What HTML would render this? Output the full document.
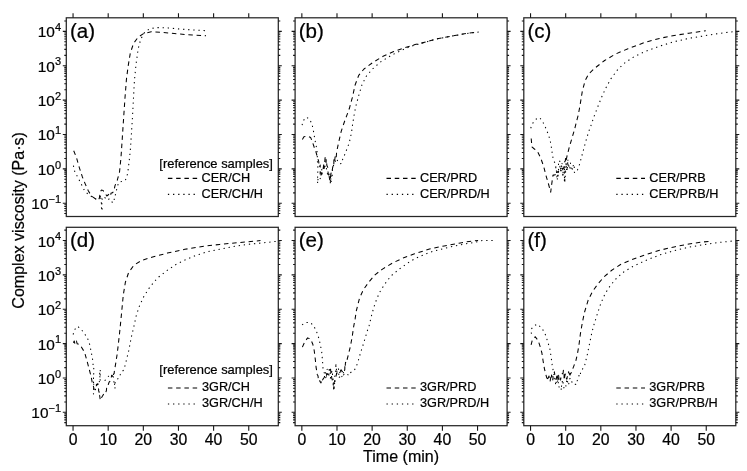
<!DOCTYPE html><html><head><meta charset="utf-8"><style>html,body{margin:0;padding:0;background:#fff}svg{display:block;filter:grayscale(1)}</style></head><body><svg width="747" height="471" viewBox="0 0 747 471" font-family="Liberation Sans, sans-serif"><style>text{stroke:#000;stroke-width:0.22px}</style>
<rect width="747" height="471" fill="#fff"/>
<g opacity="0.999">
<rect x="66.3" y="17.8" width="212.0" height="198.7" fill="none" stroke="#262626" stroke-width="1.25"/>
<rect x="295.1" y="17.8" width="212.0" height="198.7" fill="none" stroke="#262626" stroke-width="1.25"/>
<rect x="523.8" y="17.8" width="212.0" height="198.7" fill="none" stroke="#262626" stroke-width="1.25"/>
<rect x="66.3" y="227.3" width="212.0" height="198.39999999999998" fill="none" stroke="#262626" stroke-width="1.25"/>
<rect x="295.1" y="227.3" width="212.0" height="198.39999999999998" fill="none" stroke="#262626" stroke-width="1.25"/>
<rect x="523.8" y="227.3" width="212.0" height="198.39999999999998" fill="none" stroke="#262626" stroke-width="1.25"/>
<path d="M73.05 17.8v-4.6M108.19 17.8v-4.6M143.33 17.8v-4.6M178.47 17.8v-4.6M213.61 17.8v-4.6M248.75 17.8v-4.6M66.3 213.54h-2.0M278.3 213.54h2.0M66.3 210.82h-2.0M278.3 210.82h2.0M66.3 208.52h-2.0M278.3 208.52h2.0M66.3 206.53h-2.0M278.3 206.53h2.0M66.3 204.77h-2.0M278.3 204.77h2.0M66.3 203.20h-3.5M278.3 203.20h3.5M66.3 192.86h-2.0M278.3 192.86h2.0M66.3 186.81h-2.0M278.3 186.81h2.0M66.3 182.51h-2.0M278.3 182.51h2.0M66.3 179.18h-2.0M278.3 179.18h2.0M66.3 176.46h-2.0M278.3 176.46h2.0M66.3 174.16h-2.0M278.3 174.16h2.0M66.3 172.17h-2.0M278.3 172.17h2.0M66.3 170.41h-2.0M278.3 170.41h2.0M66.3 168.84h-3.5M278.3 168.84h3.5M66.3 158.50h-2.0M278.3 158.50h2.0M66.3 152.45h-2.0M278.3 152.45h2.0M66.3 148.15h-2.0M278.3 148.15h2.0M66.3 144.82h-2.0M278.3 144.82h2.0M66.3 142.10h-2.0M278.3 142.10h2.0M66.3 139.80h-2.0M278.3 139.80h2.0M66.3 137.81h-2.0M278.3 137.81h2.0M66.3 136.05h-2.0M278.3 136.05h2.0M66.3 134.48h-3.5M278.3 134.48h3.5M66.3 124.14h-2.0M278.3 124.14h2.0M66.3 118.09h-2.0M278.3 118.09h2.0M66.3 113.79h-2.0M278.3 113.79h2.0M66.3 110.46h-2.0M278.3 110.46h2.0M66.3 107.74h-2.0M278.3 107.74h2.0M66.3 105.44h-2.0M278.3 105.44h2.0M66.3 103.45h-2.0M278.3 103.45h2.0M66.3 101.69h-2.0M278.3 101.69h2.0M66.3 100.12h-3.5M278.3 100.12h3.5M66.3 89.78h-2.0M278.3 89.78h2.0M66.3 83.73h-2.0M278.3 83.73h2.0M66.3 79.43h-2.0M278.3 79.43h2.0M66.3 76.10h-2.0M278.3 76.10h2.0M66.3 73.38h-2.0M278.3 73.38h2.0M66.3 71.08h-2.0M278.3 71.08h2.0M66.3 69.09h-2.0M278.3 69.09h2.0M66.3 67.33h-2.0M278.3 67.33h2.0M66.3 65.76h-3.5M278.3 65.76h3.5M66.3 55.42h-2.0M278.3 55.42h2.0M66.3 49.37h-2.0M278.3 49.37h2.0M66.3 45.07h-2.0M278.3 45.07h2.0M66.3 41.74h-2.0M278.3 41.74h2.0M66.3 39.02h-2.0M278.3 39.02h2.0M66.3 36.72h-2.0M278.3 36.72h2.0M66.3 34.73h-2.0M278.3 34.73h2.0M66.3 32.97h-2.0M278.3 32.97h2.0M66.3 31.40h-3.5M278.3 31.40h3.5M66.3 21.06h-2.0M278.3 21.06h2.0M301.85 17.8v-4.6M336.99 17.8v-4.6M372.13 17.8v-4.6M407.27 17.8v-4.6M442.41 17.8v-4.6M477.55 17.8v-4.6M295.1 213.54h-2.0M507.1 213.54h2.0M295.1 210.82h-2.0M507.1 210.82h2.0M295.1 208.52h-2.0M507.1 208.52h2.0M295.1 206.53h-2.0M507.1 206.53h2.0M295.1 204.77h-2.0M507.1 204.77h2.0M295.1 203.20h-3.5M507.1 203.20h3.5M295.1 192.86h-2.0M507.1 192.86h2.0M295.1 186.81h-2.0M507.1 186.81h2.0M295.1 182.51h-2.0M507.1 182.51h2.0M295.1 179.18h-2.0M507.1 179.18h2.0M295.1 176.46h-2.0M507.1 176.46h2.0M295.1 174.16h-2.0M507.1 174.16h2.0M295.1 172.17h-2.0M507.1 172.17h2.0M295.1 170.41h-2.0M507.1 170.41h2.0M295.1 168.84h-3.5M507.1 168.84h3.5M295.1 158.50h-2.0M507.1 158.50h2.0M295.1 152.45h-2.0M507.1 152.45h2.0M295.1 148.15h-2.0M507.1 148.15h2.0M295.1 144.82h-2.0M507.1 144.82h2.0M295.1 142.10h-2.0M507.1 142.10h2.0M295.1 139.80h-2.0M507.1 139.80h2.0M295.1 137.81h-2.0M507.1 137.81h2.0M295.1 136.05h-2.0M507.1 136.05h2.0M295.1 134.48h-3.5M507.1 134.48h3.5M295.1 124.14h-2.0M507.1 124.14h2.0M295.1 118.09h-2.0M507.1 118.09h2.0M295.1 113.79h-2.0M507.1 113.79h2.0M295.1 110.46h-2.0M507.1 110.46h2.0M295.1 107.74h-2.0M507.1 107.74h2.0M295.1 105.44h-2.0M507.1 105.44h2.0M295.1 103.45h-2.0M507.1 103.45h2.0M295.1 101.69h-2.0M507.1 101.69h2.0M295.1 100.12h-3.5M507.1 100.12h3.5M295.1 89.78h-2.0M507.1 89.78h2.0M295.1 83.73h-2.0M507.1 83.73h2.0M295.1 79.43h-2.0M507.1 79.43h2.0M295.1 76.10h-2.0M507.1 76.10h2.0M295.1 73.38h-2.0M507.1 73.38h2.0M295.1 71.08h-2.0M507.1 71.08h2.0M295.1 69.09h-2.0M507.1 69.09h2.0M295.1 67.33h-2.0M507.1 67.33h2.0M295.1 65.76h-3.5M507.1 65.76h3.5M295.1 55.42h-2.0M507.1 55.42h2.0M295.1 49.37h-2.0M507.1 49.37h2.0M295.1 45.07h-2.0M507.1 45.07h2.0M295.1 41.74h-2.0M507.1 41.74h2.0M295.1 39.02h-2.0M507.1 39.02h2.0M295.1 36.72h-2.0M507.1 36.72h2.0M295.1 34.73h-2.0M507.1 34.73h2.0M295.1 32.97h-2.0M507.1 32.97h2.0M295.1 31.40h-3.5M507.1 31.40h3.5M295.1 21.06h-2.0M507.1 21.06h2.0M530.55 17.8v-4.6M565.69 17.8v-4.6M600.83 17.8v-4.6M635.97 17.8v-4.6M671.11 17.8v-4.6M706.25 17.8v-4.6M523.8 213.54h-2.0M735.8 213.54h2.0M523.8 210.82h-2.0M735.8 210.82h2.0M523.8 208.52h-2.0M735.8 208.52h2.0M523.8 206.53h-2.0M735.8 206.53h2.0M523.8 204.77h-2.0M735.8 204.77h2.0M523.8 203.20h-3.5M735.8 203.20h3.5M523.8 192.86h-2.0M735.8 192.86h2.0M523.8 186.81h-2.0M735.8 186.81h2.0M523.8 182.51h-2.0M735.8 182.51h2.0M523.8 179.18h-2.0M735.8 179.18h2.0M523.8 176.46h-2.0M735.8 176.46h2.0M523.8 174.16h-2.0M735.8 174.16h2.0M523.8 172.17h-2.0M735.8 172.17h2.0M523.8 170.41h-2.0M735.8 170.41h2.0M523.8 168.84h-3.5M735.8 168.84h3.5M523.8 158.50h-2.0M735.8 158.50h2.0M523.8 152.45h-2.0M735.8 152.45h2.0M523.8 148.15h-2.0M735.8 148.15h2.0M523.8 144.82h-2.0M735.8 144.82h2.0M523.8 142.10h-2.0M735.8 142.10h2.0M523.8 139.80h-2.0M735.8 139.80h2.0M523.8 137.81h-2.0M735.8 137.81h2.0M523.8 136.05h-2.0M735.8 136.05h2.0M523.8 134.48h-3.5M735.8 134.48h3.5M523.8 124.14h-2.0M735.8 124.14h2.0M523.8 118.09h-2.0M735.8 118.09h2.0M523.8 113.79h-2.0M735.8 113.79h2.0M523.8 110.46h-2.0M735.8 110.46h2.0M523.8 107.74h-2.0M735.8 107.74h2.0M523.8 105.44h-2.0M735.8 105.44h2.0M523.8 103.45h-2.0M735.8 103.45h2.0M523.8 101.69h-2.0M735.8 101.69h2.0M523.8 100.12h-3.5M735.8 100.12h3.5M523.8 89.78h-2.0M735.8 89.78h2.0M523.8 83.73h-2.0M735.8 83.73h2.0M523.8 79.43h-2.0M735.8 79.43h2.0M523.8 76.10h-2.0M735.8 76.10h2.0M523.8 73.38h-2.0M735.8 73.38h2.0M523.8 71.08h-2.0M735.8 71.08h2.0M523.8 69.09h-2.0M735.8 69.09h2.0M523.8 67.33h-2.0M735.8 67.33h2.0M523.8 65.76h-3.5M735.8 65.76h3.5M523.8 55.42h-2.0M735.8 55.42h2.0M523.8 49.37h-2.0M735.8 49.37h2.0M523.8 45.07h-2.0M735.8 45.07h2.0M523.8 41.74h-2.0M735.8 41.74h2.0M523.8 39.02h-2.0M735.8 39.02h2.0M523.8 36.72h-2.0M735.8 36.72h2.0M523.8 34.73h-2.0M735.8 34.73h2.0M523.8 32.97h-2.0M735.8 32.97h2.0M523.8 31.40h-3.5M735.8 31.40h3.5M523.8 21.06h-2.0M735.8 21.06h2.0M73.05 425.7v5.1M108.19 425.7v5.1M143.33 425.7v5.1M178.47 425.7v5.1M213.61 425.7v5.1M248.75 425.7v5.1M66.3 422.64h-2.0M278.3 422.64h2.0M66.3 419.92h-2.0M278.3 419.92h2.0M66.3 417.62h-2.0M278.3 417.62h2.0M66.3 415.63h-2.0M278.3 415.63h2.0M66.3 413.87h-2.0M278.3 413.87h2.0M66.3 412.30h-3.5M278.3 412.30h3.5M66.3 401.96h-2.0M278.3 401.96h2.0M66.3 395.91h-2.0M278.3 395.91h2.0M66.3 391.61h-2.0M278.3 391.61h2.0M66.3 388.28h-2.0M278.3 388.28h2.0M66.3 385.56h-2.0M278.3 385.56h2.0M66.3 383.26h-2.0M278.3 383.26h2.0M66.3 381.27h-2.0M278.3 381.27h2.0M66.3 379.51h-2.0M278.3 379.51h2.0M66.3 377.94h-3.5M278.3 377.94h3.5M66.3 367.60h-2.0M278.3 367.60h2.0M66.3 361.55h-2.0M278.3 361.55h2.0M66.3 357.25h-2.0M278.3 357.25h2.0M66.3 353.92h-2.0M278.3 353.92h2.0M66.3 351.20h-2.0M278.3 351.20h2.0M66.3 348.90h-2.0M278.3 348.90h2.0M66.3 346.91h-2.0M278.3 346.91h2.0M66.3 345.15h-2.0M278.3 345.15h2.0M66.3 343.58h-3.5M278.3 343.58h3.5M66.3 333.24h-2.0M278.3 333.24h2.0M66.3 327.19h-2.0M278.3 327.19h2.0M66.3 322.89h-2.0M278.3 322.89h2.0M66.3 319.56h-2.0M278.3 319.56h2.0M66.3 316.84h-2.0M278.3 316.84h2.0M66.3 314.54h-2.0M278.3 314.54h2.0M66.3 312.55h-2.0M278.3 312.55h2.0M66.3 310.79h-2.0M278.3 310.79h2.0M66.3 309.22h-3.5M278.3 309.22h3.5M66.3 298.88h-2.0M278.3 298.88h2.0M66.3 292.83h-2.0M278.3 292.83h2.0M66.3 288.53h-2.0M278.3 288.53h2.0M66.3 285.20h-2.0M278.3 285.20h2.0M66.3 282.48h-2.0M278.3 282.48h2.0M66.3 280.18h-2.0M278.3 280.18h2.0M66.3 278.19h-2.0M278.3 278.19h2.0M66.3 276.43h-2.0M278.3 276.43h2.0M66.3 274.86h-3.5M278.3 274.86h3.5M66.3 264.52h-2.0M278.3 264.52h2.0M66.3 258.47h-2.0M278.3 258.47h2.0M66.3 254.17h-2.0M278.3 254.17h2.0M66.3 250.84h-2.0M278.3 250.84h2.0M66.3 248.12h-2.0M278.3 248.12h2.0M66.3 245.82h-2.0M278.3 245.82h2.0M66.3 243.83h-2.0M278.3 243.83h2.0M66.3 242.07h-2.0M278.3 242.07h2.0M66.3 240.50h-3.5M278.3 240.50h3.5M66.3 230.16h-2.0M278.3 230.16h2.0M301.85 425.7v5.1M336.99 425.7v5.1M372.13 425.7v5.1M407.27 425.7v5.1M442.41 425.7v5.1M477.55 425.7v5.1M295.1 422.64h-2.0M507.1 422.64h2.0M295.1 419.92h-2.0M507.1 419.92h2.0M295.1 417.62h-2.0M507.1 417.62h2.0M295.1 415.63h-2.0M507.1 415.63h2.0M295.1 413.87h-2.0M507.1 413.87h2.0M295.1 412.30h-3.5M507.1 412.30h3.5M295.1 401.96h-2.0M507.1 401.96h2.0M295.1 395.91h-2.0M507.1 395.91h2.0M295.1 391.61h-2.0M507.1 391.61h2.0M295.1 388.28h-2.0M507.1 388.28h2.0M295.1 385.56h-2.0M507.1 385.56h2.0M295.1 383.26h-2.0M507.1 383.26h2.0M295.1 381.27h-2.0M507.1 381.27h2.0M295.1 379.51h-2.0M507.1 379.51h2.0M295.1 377.94h-3.5M507.1 377.94h3.5M295.1 367.60h-2.0M507.1 367.60h2.0M295.1 361.55h-2.0M507.1 361.55h2.0M295.1 357.25h-2.0M507.1 357.25h2.0M295.1 353.92h-2.0M507.1 353.92h2.0M295.1 351.20h-2.0M507.1 351.20h2.0M295.1 348.90h-2.0M507.1 348.90h2.0M295.1 346.91h-2.0M507.1 346.91h2.0M295.1 345.15h-2.0M507.1 345.15h2.0M295.1 343.58h-3.5M507.1 343.58h3.5M295.1 333.24h-2.0M507.1 333.24h2.0M295.1 327.19h-2.0M507.1 327.19h2.0M295.1 322.89h-2.0M507.1 322.89h2.0M295.1 319.56h-2.0M507.1 319.56h2.0M295.1 316.84h-2.0M507.1 316.84h2.0M295.1 314.54h-2.0M507.1 314.54h2.0M295.1 312.55h-2.0M507.1 312.55h2.0M295.1 310.79h-2.0M507.1 310.79h2.0M295.1 309.22h-3.5M507.1 309.22h3.5M295.1 298.88h-2.0M507.1 298.88h2.0M295.1 292.83h-2.0M507.1 292.83h2.0M295.1 288.53h-2.0M507.1 288.53h2.0M295.1 285.20h-2.0M507.1 285.20h2.0M295.1 282.48h-2.0M507.1 282.48h2.0M295.1 280.18h-2.0M507.1 280.18h2.0M295.1 278.19h-2.0M507.1 278.19h2.0M295.1 276.43h-2.0M507.1 276.43h2.0M295.1 274.86h-3.5M507.1 274.86h3.5M295.1 264.52h-2.0M507.1 264.52h2.0M295.1 258.47h-2.0M507.1 258.47h2.0M295.1 254.17h-2.0M507.1 254.17h2.0M295.1 250.84h-2.0M507.1 250.84h2.0M295.1 248.12h-2.0M507.1 248.12h2.0M295.1 245.82h-2.0M507.1 245.82h2.0M295.1 243.83h-2.0M507.1 243.83h2.0M295.1 242.07h-2.0M507.1 242.07h2.0M295.1 240.50h-3.5M507.1 240.50h3.5M295.1 230.16h-2.0M507.1 230.16h2.0M530.55 425.7v5.1M565.69 425.7v5.1M600.83 425.7v5.1M635.97 425.7v5.1M671.11 425.7v5.1M706.25 425.7v5.1M523.8 422.64h-2.0M735.8 422.64h2.0M523.8 419.92h-2.0M735.8 419.92h2.0M523.8 417.62h-2.0M735.8 417.62h2.0M523.8 415.63h-2.0M735.8 415.63h2.0M523.8 413.87h-2.0M735.8 413.87h2.0M523.8 412.30h-3.5M735.8 412.30h3.5M523.8 401.96h-2.0M735.8 401.96h2.0M523.8 395.91h-2.0M735.8 395.91h2.0M523.8 391.61h-2.0M735.8 391.61h2.0M523.8 388.28h-2.0M735.8 388.28h2.0M523.8 385.56h-2.0M735.8 385.56h2.0M523.8 383.26h-2.0M735.8 383.26h2.0M523.8 381.27h-2.0M735.8 381.27h2.0M523.8 379.51h-2.0M735.8 379.51h2.0M523.8 377.94h-3.5M735.8 377.94h3.5M523.8 367.60h-2.0M735.8 367.60h2.0M523.8 361.55h-2.0M735.8 361.55h2.0M523.8 357.25h-2.0M735.8 357.25h2.0M523.8 353.92h-2.0M735.8 353.92h2.0M523.8 351.20h-2.0M735.8 351.20h2.0M523.8 348.90h-2.0M735.8 348.90h2.0M523.8 346.91h-2.0M735.8 346.91h2.0M523.8 345.15h-2.0M735.8 345.15h2.0M523.8 343.58h-3.5M735.8 343.58h3.5M523.8 333.24h-2.0M735.8 333.24h2.0M523.8 327.19h-2.0M735.8 327.19h2.0M523.8 322.89h-2.0M735.8 322.89h2.0M523.8 319.56h-2.0M735.8 319.56h2.0M523.8 316.84h-2.0M735.8 316.84h2.0M523.8 314.54h-2.0M735.8 314.54h2.0M523.8 312.55h-2.0M735.8 312.55h2.0M523.8 310.79h-2.0M735.8 310.79h2.0M523.8 309.22h-3.5M735.8 309.22h3.5M523.8 298.88h-2.0M735.8 298.88h2.0M523.8 292.83h-2.0M735.8 292.83h2.0M523.8 288.53h-2.0M735.8 288.53h2.0M523.8 285.20h-2.0M735.8 285.20h2.0M523.8 282.48h-2.0M735.8 282.48h2.0M523.8 280.18h-2.0M735.8 280.18h2.0M523.8 278.19h-2.0M735.8 278.19h2.0M523.8 276.43h-2.0M735.8 276.43h2.0M523.8 274.86h-3.5M735.8 274.86h3.5M523.8 264.52h-2.0M735.8 264.52h2.0M523.8 258.47h-2.0M735.8 258.47h2.0M523.8 254.17h-2.0M735.8 254.17h2.0M523.8 250.84h-2.0M735.8 250.84h2.0M523.8 248.12h-2.0M735.8 248.12h2.0M523.8 245.82h-2.0M735.8 245.82h2.0M523.8 243.83h-2.0M735.8 243.83h2.0M523.8 242.07h-2.0M735.8 242.07h2.0M523.8 240.50h-3.5M735.8 240.50h3.5M523.8 230.16h-2.0M735.8 230.16h2.0" stroke="#161616" stroke-width="1.1" fill="none"/>
<text x="61.0" y="209.20" font-size="15.4" text-anchor="end">10<tspan font-size="11" dy="-6.3">−1</tspan></text>
<text x="61.0" y="174.84" font-size="15.4" text-anchor="end">10<tspan font-size="11" dy="-6.3">0</tspan></text>
<text x="61.0" y="140.48" font-size="15.4" text-anchor="end">10<tspan font-size="11" dy="-6.3">1</tspan></text>
<text x="61.0" y="106.12" font-size="15.4" text-anchor="end">10<tspan font-size="11" dy="-6.3">2</tspan></text>
<text x="61.0" y="71.76" font-size="15.4" text-anchor="end">10<tspan font-size="11" dy="-6.3">3</tspan></text>
<text x="61.0" y="37.40" font-size="15.4" text-anchor="end">10<tspan font-size="11" dy="-6.3">4</tspan></text>
<text x="61.0" y="418.30" font-size="15.4" text-anchor="end">10<tspan font-size="11" dy="-6.3">−1</tspan></text>
<text x="61.0" y="383.94" font-size="15.4" text-anchor="end">10<tspan font-size="11" dy="-6.3">0</tspan></text>
<text x="61.0" y="349.58" font-size="15.4" text-anchor="end">10<tspan font-size="11" dy="-6.3">1</tspan></text>
<text x="61.0" y="315.22" font-size="15.4" text-anchor="end">10<tspan font-size="11" dy="-6.3">2</tspan></text>
<text x="61.0" y="280.86" font-size="15.4" text-anchor="end">10<tspan font-size="11" dy="-6.3">3</tspan></text>
<text x="61.0" y="246.50" font-size="15.4" text-anchor="end">10<tspan font-size="11" dy="-6.3">4</tspan></text>
<text x="73.05" y="444.5" font-size="15.8" text-anchor="middle">0</text>
<text x="108.19" y="444.5" font-size="15.8" text-anchor="middle">10</text>
<text x="143.33" y="444.5" font-size="15.8" text-anchor="middle">20</text>
<text x="178.47" y="444.5" font-size="15.8" text-anchor="middle">30</text>
<text x="213.61" y="444.5" font-size="15.8" text-anchor="middle">40</text>
<text x="248.75" y="444.5" font-size="15.8" text-anchor="middle">50</text>
<text x="301.85" y="444.5" font-size="15.8" text-anchor="middle">0</text>
<text x="336.99" y="444.5" font-size="15.8" text-anchor="middle">10</text>
<text x="372.13" y="444.5" font-size="15.8" text-anchor="middle">20</text>
<text x="407.27" y="444.5" font-size="15.8" text-anchor="middle">30</text>
<text x="442.41" y="444.5" font-size="15.8" text-anchor="middle">40</text>
<text x="477.55" y="444.5" font-size="15.8" text-anchor="middle">50</text>
<text x="530.55" y="444.5" font-size="15.8" text-anchor="middle">0</text>
<text x="565.69" y="444.5" font-size="15.8" text-anchor="middle">10</text>
<text x="600.83" y="444.5" font-size="15.8" text-anchor="middle">20</text>
<text x="635.97" y="444.5" font-size="15.8" text-anchor="middle">30</text>
<text x="671.11" y="444.5" font-size="15.8" text-anchor="middle">40</text>
<text x="706.25" y="444.5" font-size="15.8" text-anchor="middle">50</text>
<text transform="translate(69.90,37.70) scale(1.05,1)" font-size="19.6">(a)</text>
<text transform="translate(298.70,37.70) scale(1.05,1)" font-size="19.6">(b)</text>
<text transform="translate(527.40,37.70) scale(1.05,1)" font-size="19.6">(c)</text>
<text transform="translate(69.90,247.20) scale(1.05,1)" font-size="19.6">(d)</text>
<text transform="translate(298.70,247.20) scale(1.05,1)" font-size="19.6">(e)</text>
<text transform="translate(527.40,247.20) scale(1.05,1)" font-size="19.6">(f)</text>
<text transform="translate(401.1,462.3) scale(0.962,1)" font-size="16.7" text-anchor="middle">Time (min)</text>
<text transform="translate(23.5,220.4) rotate(-90) scale(0.962,1)" font-size="16.7" text-anchor="middle">Complex viscosity (Pa·s)</text>
<text x="201.5" y="182.20" font-size="12.7">CER/CH</text>
<text x="201.5" y="198.20" font-size="12.7">CER/CH/H</text>
<path d="M167.9 178.4H197.3" stroke="#000" stroke-width="1.1" stroke-dasharray="4.5 3.75" fill="none"/>
<path d="M167.9 194.4H197.3" stroke="#000" stroke-width="1.1" stroke-dasharray="1.3 3.83" fill="none"/>
<text x="159.3" y="167.5" font-size="12.95">[reference samples]</text>
<text x="420.0" y="182.20" font-size="12.7">CER/PRD</text>
<text x="420.0" y="198.20" font-size="12.7">CER/PRD/H</text>
<path d="M386.5 178.4H415.7" stroke="#000" stroke-width="1.1" stroke-dasharray="4.5 3.75" fill="none"/>
<path d="M386.5 194.4H415.7" stroke="#000" stroke-width="1.1" stroke-dasharray="1.3 3.83" fill="none"/>
<text x="649.3" y="182.20" font-size="12.7">CER/PRB</text>
<text x="649.3" y="198.20" font-size="12.7">CER/PRB/H</text>
<path d="M616.3 178.4H645" stroke="#000" stroke-width="1.1" stroke-dasharray="4.5 3.75" fill="none"/>
<path d="M616.3 194.4H645" stroke="#000" stroke-width="1.1" stroke-dasharray="1.3 3.83" fill="none"/>
<text x="202.0" y="391.40" font-size="12.7">3GR/CH</text>
<text x="202.0" y="407.40" font-size="12.7">3GR/CH/H</text>
<path d="M167.9 388.0H197.3" stroke="#000" stroke-width="1.1" stroke-dasharray="4.5 3.75" fill="none"/>
<path d="M167.9 404.0H197.3" stroke="#000" stroke-width="1.1" stroke-dasharray="1.3 3.83" fill="none"/>
<text x="159.3" y="373.9" font-size="12.95">[reference samples]</text>
<text x="420.0" y="391.40" font-size="12.7">3GR/PRD</text>
<text x="420.0" y="407.40" font-size="12.7">3GR/PRD/H</text>
<path d="M386.5 388.0H415.7" stroke="#000" stroke-width="1.1" stroke-dasharray="4.5 3.75" fill="none"/>
<path d="M386.5 404.0H415.7" stroke="#000" stroke-width="1.1" stroke-dasharray="1.3 3.83" fill="none"/>
<text x="649.3" y="391.40" font-size="12.7">3GR/PRB</text>
<text x="649.3" y="407.40" font-size="12.7">3GR/PRB/H</text>
<path d="M616.3 388.0H645" stroke="#000" stroke-width="1.1" stroke-dasharray="4.5 3.75" fill="none"/>
<path d="M616.3 404.0H645" stroke="#000" stroke-width="1.1" stroke-dasharray="1.3 3.83" fill="none"/>
<path d="M73.7 150.7 L76.4 157.4 L79.4 167.8 L82.3 176.7 L85.3 184.1 L88.3 190.8 L90.5 194.5 L92.7 196.8 L95.7 199.0 L97.9 200.2 L99.4 198.2 L99.4 197.6 L100.1 193.9 L100.2 193.0 L100.7 191.4 L101.3 190.1 L103.1 190.4 L104.4 193.0 L105.4 193.8 L106.8 196.0 L109.1 194.2 L110.6 196.0 L111.0 193.0 L112.0 193.0 L113.8 191.6 L115.0 185.6 L117.2 180.4 L119.5 172.2 L121.0 157.4 L121.7 147.0 L123.7 116.8 L125.0 97.7 L126.5 78.6 L128.2 65.8 L130.3 53.1 L133.5 43.5 L138.2 37.2 L143.5 33.6 L151.2 31.8 L162.5 32.4 L177.5 33.9 L192.5 35.0 L206.0 35.7" stroke="#000" stroke-width="1.05" stroke-dasharray="4.5 3.75" fill="none" stroke-linejoin="round"/>
<path d="M73.4 165.6 L74.9 172.2 L77.9 177.4 L80.9 183.4 L84.6 190.8 L88.3 194.5 L92.0 196.8 L95.7 199.0 L99.4 197.5 L100.9 196.0 L101.3 199.1 L100.7 198.0 L101.4 201.7 L101.3 202.0 L101.4 204.6 L101.4 204.8 L101.4 207.2 L101.7 210.8 L101.6 210.9 L102.1 209.4 L101.8 206.8 L101.5 204.4 L102.0 203.6 L102.0 203.8 L102.2 201.0 L102.1 197.7 L102.4 197.5 L103.8 196.7 L105.4 198.2 L107.3 200.2 L109.1 199.0 L110.7 199.2 L112.3 202.4 L113.5 202.7 L114.0 202.3 L114.2 200.2 L114.3 197.5 L114.7 197.5 L115.7 193.4 L115.8 193.0 L117.2 187.1 L118.7 182.6 L122.4 181.2 L125.4 180.4 L127.6 173.7 L129.1 161.9 L130.2 151.5 L130.6 147.0 L132.5 116.8 L133.5 97.7 L134.4 80.7 L136.1 63.7 L138.2 48.8 L140.7 39.3 L144.6 32.3 L149.9 28.7 L157.3 27.6 L168.1 27.9 L181.2 29.2 L196.2 30.1 L206.5 30.7" stroke="#000" stroke-width="1.05" stroke-dasharray="1.3 3.83" fill="none" stroke-linejoin="round"/>
<path d="M302.4 139.4 L303.9 136.8 L307.6 136.1 L310.6 137.4 L312.5 142.3 L314.3 147.5 L315.8 151.4 L317.3 156.7 L318.8 161.9 L318.8 164.0 L319.2 166.3 L319.5 167.1 L320.2 165.1 L320.2 173.9 L321.0 170.3 L321.7 174.6 L322.6 172.3 L323.0 170.4 L323.2 168.6 L323.8 163.7 L324.2 168.4 L324.5 165.4 L325.1 157.6 L325.4 159.7 L326.1 162.5 L326.2 159.4 L326.9 165.6 L327.7 167.2 L328.1 172.8 L328.6 175.0 L328.9 173.1 L329.3 177.5 L329.8 180.5 L330.3 178.3 L331.1 173.0 L330.9 172.4 L332.0 172.7 L332.1 171.6 L332.6 167.8 L332.9 166.6 L333.3 165.6 L333.4 164.4 L333.8 165.3 L333.9 159.7 L334.6 162.1 L335.1 156.7 L336.1 158.9 L336.6 152.3 L337.8 146.3 L339.4 139.2 L341.2 131.3 L344.0 123.0 L347.0 114.9 L349.4 108.3 L352.3 97.7 L355.1 85.0 L358.7 75.4 L364.0 69.0 L372.5 62.7 L383.1 56.3 L393.7 51.6 L404.3 47.8 L415.0 44.6 L425.6 42.1 L436.8 38.8 L451.5 36.1 L466.3 33.5 L476.6 32.2" stroke="#000" stroke-width="1.05" stroke-dasharray="4.5 3.75" fill="none" stroke-linejoin="round"/>
<path d="M302.1 125.2 L303.2 120.8 L306.1 117.1 L309.6 119.0 L312.1 124.5 L313.6 131.9 L315.0 140.1 L316.5 147.5 L317.3 153.5 L317.3 159.7 L318.0 168.6 L317.6 174.6 L317.6 183.5 L318.1 178.1 L318.9 176.8 L319.3 177.3 L320.7 179.1 L321.0 174.6 L321.7 170.1 L322.0 168.6 L322.5 168.6 L324.7 167.1 L325.5 165.1 L326.9 170.1 L327.7 175.4 L329.2 175.9 L329.9 174.6 L330.2 173.4 L329.9 178.9 L330.3 182.6 L330.5 177.3 L330.3 184.1 L330.3 184.2 L330.5 179.7 L330.6 177.3 L331.2 182.7 L331.1 176.0 L331.5 176.9 L331.4 174.6 L332.2 175.7 L332.4 169.8 L332.9 168.6 L333.5 166.2 L333.6 163.4 L334.4 163.4 L336.5 158.5 L338.1 161.9 L339.6 163.8 L341.8 163.4 L342.1 162.0 L342.8 158.5 L343.3 158.2 L346.2 150.8 L348.5 144.9 L350.2 138.9 L351.6 132.0 L352.9 122.3 L354.4 113.4 L355.9 106.0 L358.7 95.6 L361.9 85.0 L366.1 76.5 L372.5 69.0 L381.0 61.6 L391.6 55.2 L402.2 49.9 L410.7 46.3 L419.2 44.0 L436.8 38.9 L451.5 36.2 L466.3 33.6 L476.6 32.3 L481.7 31.7" stroke="#000" stroke-width="1.05" stroke-dasharray="1.3 3.83" fill="none" stroke-linejoin="round"/>
<path d="M531.2 138.5 L531.9 146.8 L534.4 149.0 L537.4 151.3 L540.7 158.0 L543.6 166.2 L546.3 176.6 L548.5 184.0 L550.7 192.2 L551.5 185.5 L553.0 175.1 L554.1 175.1 L555.2 174.8 L555.9 170.6 L557.9 172.4 L559.6 169.2 L561.1 168.6 L563.4 168.4 L564.1 167.6 L564.4 162.7 L564.4 161.9 L564.8 161.7 L565.4 160.6 L565.6 157.0 L566.3 159.7 L567.1 155.7 L569.3 147.2 L571.7 139.0 L574.5 129.7 L576.7 120.8 L578.3 114.9 L580.2 104.3 L582.3 91.3 L585.1 80.7 L588.7 73.9 L595.0 68.0 L604.6 60.5 L615.2 54.2 L628.0 48.7 L644.7 42.5 L659.5 38.4 L674.2 35.4 L688.9 33.2 L705.8 30.7" stroke="#000" stroke-width="1.05" stroke-dasharray="4.5 3.75" fill="none" stroke-linejoin="round"/>
<path d="M530.7 128.2 L532.9 123.0 L535.9 119.3 L539.6 117.5 L542.6 121.5 L545.5 127.5 L548.5 134.9 L550.2 140.5 L551.5 148.0 L552.6 156.0 L553.7 160.9 L555.2 163.2 L555.8 167.2 L555.8 164.9 L555.8 169.4 L556.5 170.0 L556.6 173.4 L556.7 175.1 L556.8 176.9 L557.3 175.8 L557.3 179.3 L557.4 179.6 L557.3 178.3 L558.0 174.6 L558.1 175.9 L558.3 171.8 L557.9 173.4 L558.6 169.3 L558.5 168.0 L558.5 164.1 L559.3 163.0 L559.8 163.4 L559.8 161.0 L559.7 163.7 L560.0 167.2 L560.6 165.8 L560.6 168.7 L560.9 172.2 L560.5 169.5 L561.0 172.0 L561.3 169.0 L561.5 165.9 L561.9 167.4 L561.5 166.7 L562.0 164.0 L562.0 163.4 L562.2 164.5 L562.1 171.1 L562.7 166.6 L562.8 168.1 L562.6 175.8 L563.0 173.1 L563.0 176.0 L563.1 173.6 L563.0 176.2 L563.1 170.5 L563.9 168.6 L564.2 165.9 L564.0 166.0 L564.5 170.2 L564.3 171.7 L564.2 172.8 L564.5 172.1 L564.3 174.9 L564.4 172.1 L564.7 174.9 L564.6 180.0 L564.4 176.2 L564.4 181.6 L564.8 182.5 L564.8 179.3 L564.9 182.5 L564.8 177.4 L565.4 177.3 L565.0 174.8 L565.2 171.0 L565.2 170.6 L565.7 169.3 L565.6 172.3 L565.9 166.6 L565.7 164.7 L565.6 164.4 L565.8 163.0 L566.3 167.7 L566.1 162.7 L566.5 164.7 L566.4 171.3 L567.0 171.0 L566.8 171.0 L567.2 170.9 L567.7 163.2 L567.3 167.8 L567.8 162.6 L568.1 163.8 L568.0 160.0 L568.2 161.3 L568.0 162.0 L568.2 165.4 L568.8 163.5 L568.9 164.7 L569.0 169.0 L569.1 168.5 L569.7 168.8 L570.2 165.9 L570.5 163.0 L570.6 167.1 L570.9 167.3 L572.0 171.1 L572.0 170.0 L572.7 168.2 L572.9 169.0 L572.8 168.6 L573.5 164.0 L574.1 165.2 L574.3 166.8 L574.2 170.3 L574.4 172.5 L575.0 172.0 L576.6 169.5 L577.5 169.9 L579.7 164.0 L581.0 159.0 L583.0 151.6 L585.0 144.2 L587.1 136.8 L589.4 129.7 L591.6 123.8 L593.9 116.8 L597.2 108.3 L601.4 97.7 L605.7 88.2 L611.0 78.6 L617.3 70.1 L623.7 63.7 L632.2 57.8 L640.7 53.5 L649.2 49.9 L659.5 46.2 L674.2 41.7 L688.9 38.4 L703.6 35.9 L718.4 33.5 L733.1 31.7" stroke="#000" stroke-width="1.05" stroke-dasharray="1.3 3.83" fill="none" stroke-linejoin="round"/>
<path d="M73.4 342.7 L74.2 341.0 L75.0 344.0 L76.4 341.0 L77.2 343.8 L80.1 344.9 L84.6 352.3 L86.8 360.2 L89.0 368.4 L91.2 376.9 L92.7 385.1 L93.3 385.8 L94.2 389.6 L95.4 385.8 L96.4 385.8 L97.9 383.6 L98.2 385.0 L98.1 387.6 L98.7 389.6 L98.6 391.0 L99.0 391.3 L99.5 396.2 L99.6 395.3 L100.3 400.2 L100.5 400.0 L101.5 397.6 L102.4 396.2 L104.3 392.8 L105.4 393.3 L106.4 390.6 L106.6 388.2 L107.6 388.1 L107.9 387.5 L108.3 384.5 L109.1 382.1 L110.6 380.6 L111.2 378.3 L111.6 375.2 L112.0 375.4 L113.5 377.7 L113.4 374.4 L114.2 373.4 L114.3 371.7 L115.8 362.8 L117.2 353.9 L118.2 345.3 L119.5 333.8 L120.7 321.9 L121.7 311.7 L123.3 294.9 L125.4 282.2 L128.6 272.6 L133.9 265.2 L141.4 260.5 L152.6 256.9 L167.4 253.1 L184.8 249.3 L202.2 246.5 L219.6 244.4 L237.0 242.7 L260.5 240.6" stroke="#000" stroke-width="1.05" stroke-dasharray="4.5 3.75" fill="none" stroke-linejoin="round"/>
<path d="M73.1 334.5 L74.9 329.3 L77.6 326.3 L80.9 329.0 L84.6 333.8 L87.5 338.2 L89.8 344.9 L91.2 352.0 L92.2 357.0 L93.1 362.8 L93.0 366.6 L93.0 367.3 L93.0 367.0 L93.8 368.6 L93.5 371.7 L93.7 373.3 L93.6 375.2 L93.5 378.5 L93.5 377.7 L93.9 380.6 L93.5 381.2 L93.7 385.7 L93.7 383.9 L93.5 389.5 L93.3 389.5 L93.5 391.4 L93.4 393.2 L93.5 394.0 L94.2 392.7 L95.3 390.4 L95.7 388.1 L96.5 384.3 L97.9 384.4 L99.0 382.9 L99.4 381.4 L99.3 381.7 L99.7 379.0 L100.0 375.4 L99.7 376.3 L99.7 374.1 L99.8 372.0 L100.2 369.5 L100.4 373.2 L100.6 373.0 L100.1 373.2 L100.4 376.5 L100.1 379.9 L100.5 379.9 L103.1 380.6 L105.0 380.4 L106.8 378.4 L108.5 376.2 L110.6 376.2 L113.5 376.9 L113.3 377.8 L113.7 379.8 L114.0 383.2 L114.7 381.9 L114.5 383.4 L114.9 388.6 L115.0 388.1 L115.0 387.4 L115.2 382.2 L115.8 381.8 L115.8 380.6 L117.0 379.2 L118.7 378.4 L119.2 376.3 L120.2 374.7 L121.0 372.4 L121.7 371.7 L123.7 370.2 L125.4 364.3 L127.3 356.4 L128.7 350.9 L129.7 345.6 L131.4 336.7 L133.6 327.8 L136.1 316.2 L139.2 306.6 L143.5 297.1 L148.8 288.6 L154.1 281.8 L158.7 277.0 L167.4 270.2 L176.1 264.4 L184.8 260.1 L195.2 255.7 L207.4 251.7 L219.6 249.3 L233.5 246.5 L247.5 244.4 L261.4 243.0 L276.2 241.4" stroke="#000" stroke-width="1.05" stroke-dasharray="1.3 3.83" fill="none" stroke-linejoin="round"/>
<path d="M302.4 347.1 L304.7 341.9 L307.6 337.9 L310.6 339.0 L312.8 344.2 L314.2 350.5 L315.2 358.5 L316.1 367.3 L317.3 374.7 L318.0 375.7 L318.5 380.4 L319.5 379.9 L319.9 381.4 L321.0 382.9 L322.1 378.9 L322.5 379.9 L324.0 377.7 L324.5 376.7 L324.6 373.5 L325.4 372.5 L326.9 374.7 L328.4 373.2 L329.3 371.1 L329.9 369.5 L330.6 369.2 L330.7 370.6 L331.4 374.7 L331.8 378.7 L332.2 379.3 L332.4 380.6 L332.9 380.6 L332.7 381.0 L333.3 385.2 L333.3 383.0 L333.3 385.4 L333.6 388.8 L333.7 389.0 L333.8 387.8 L334.6 381.2 L334.5 382.2 L334.8 380.6 L334.9 378.3 L335.8 376.9 L336.9 372.7 L337.3 373.2 L339.6 372.5 L341.1 369.8 L342.5 371.7 L343.7 373.0 L344.8 369.5 L344.9 364.9 L345.2 366.5 L345.5 362.2 L346.2 363.1 L348.3 355.0 L350.4 346.4 L352.2 336.7 L353.7 326.3 L355.1 318.9 L356.4 310.5 L359.5 298.2 L363.4 289.7 L368.7 282.2 L375.0 274.8 L382.5 269.1 L393.1 262.7 L403.7 257.8 L414.5 253.8 L429.5 249.1 L444.2 245.9 L458.9 243.2 L469.2 241.4 L478.1 240.5" stroke="#000" stroke-width="1.05" stroke-dasharray="4.5 3.75" fill="none" stroke-linejoin="round"/>
<path d="M302.1 324.9 L305.4 322.6 L309.9 322.3 L313.6 325.6 L316.5 331.5 L318.8 338.2 L320.5 345.6 L321.7 352.0 L322.5 360.5 L323.0 369.0 L324.7 374.0 L325.2 375.3 L325.6 375.9 L326.0 379.0 L326.4 379.1 L326.5 374.3 L326.5 373.6 L326.5 375.3 L327.2 369.2 L327.0 370.0 L327.6 372.3 L327.6 372.4 L328.1 375.0 L328.3 377.0 L328.6 376.3 L328.4 375.3 L329.2 374.8 L329.1 368.7 L328.8 367.7 L329.4 368.0 L329.9 368.7 L329.7 373.3 L329.8 373.2 L330.1 372.5 L330.4 378.1 L330.5 378.0 L330.6 374.9 L331.1 372.2 L331.5 374.3 L331.8 371.0 L332.1 372.7 L332.5 372.2 L332.5 374.9 L332.7 375.1 L333.0 376.5 L333.0 380.0 L333.0 383.2 L333.9 382.9 L333.8 383.6 L333.9 387.1 L334.4 388.1 L334.2 384.6 L334.5 383.2 L334.8 384.9 L334.9 381.6 L334.7 379.7 L334.5 379.5 L334.8 375.9 L334.7 375.0 L335.2 373.1 L335.2 372.0 L335.6 371.2 L335.2 368.8 L335.9 367.1 L335.8 363.1 L335.8 363.6 L335.9 365.0 L336.0 366.5 L336.3 368.7 L336.4 368.4 L336.5 374.1 L336.6 371.0 L336.8 375.0 L336.7 373.4 L337.0 369.5 L337.4 369.5 L338.0 368.0 L338.6 369.4 L338.4 370.7 L338.6 372.2 L339.0 376.0 L339.2 375.1 L339.2 377.0 L339.6 377.3 L339.6 372.2 L340.3 372.7 L340.5 370.0 L341.0 371.9 L341.5 372.9 L341.9 376.8 L342.0 376.0 L342.4 376.1 L343.2 374.6 L343.5 371.0 L343.9 375.1 L345.0 375.0 L347.0 374.0 L349.1 375.6 L350.7 372.5 L354.4 370.2 L356.6 365.7 L358.4 360.2 L360.5 353.0 L363.3 344.2 L365.6 336.7 L367.8 329.3 L369.2 325.4 L371.9 314.1 L375.0 303.5 L379.3 292.8 L384.6 284.3 L391.0 275.9 L399.7 268.8 L407.6 263.1 L414.7 258.8 L429.5 252.3 L444.2 248.4 L458.9 245.0 L473.6 242.5 L482.5 240.5 L494.3 240.5" stroke="#000" stroke-width="1.05" stroke-dasharray="1.3 3.83" fill="none" stroke-linejoin="round"/>
<path d="M531.1 344.9 L532.2 340.4 L535.1 336.7 L538.1 340.4 L540.3 347.1 L541.9 353.0 L543.1 361.0 L544.5 369.1 L546.2 375.8 L546.7 377.6 L547.6 378.9 L547.8 380.6 L548.2 379.4 L548.3 377.6 L549.0 376.0 L549.5 378.8 L549.5 378.5 L550.2 381.0 L550.2 380.7 L551.0 376.2 L551.6 378.4 L551.5 375.0 L552.1 377.1 L552.1 376.4 L552.8 380.0 L553.1 376.6 L553.2 375.6 L553.4 374.9 L554.0 374.7 L554.4 371.7 L554.7 374.1 L554.9 376.0 L555.2 376.3 L555.5 379.0 L556.3 379.3 L556.6 376.5 L556.8 374.0 L557.0 374.7 L557.2 375.8 L557.9 378.9 L558.0 381.0 L558.6 379.0 L559.0 379.4 L558.6 375.3 L559.3 375.0 L560.1 376.5 L560.6 377.9 L560.6 380.0 L560.6 379.0 L561.5 376.1 L561.3 374.8 L562.0 374.0 L563.1 373.1 L563.4 370.2 L563.3 370.8 L563.4 371.7 L564.1 373.8 L564.1 376.5 L564.0 379.3 L564.4 380.0 L564.4 379.1 L564.7 376.7 L565.1 374.6 L565.7 374.0 L566.5 376.9 L566.4 378.9 L567.0 379.0 L567.2 376.8 L568.1 375.9 L567.9 375.5 L568.6 371.7 L568.8 372.5 L569.6 374.5 L569.8 377.0 L570.2 373.6 L570.6 374.0 L571.5 372.0 L573.8 366.1 L576.0 360.2 L577.5 353.5 L578.9 345.5 L580.4 333.8 L582.2 323.4 L584.3 313.0 L588.1 300.3 L592.3 291.8 L597.6 284.3 L604.0 276.9 L611.4 270.5 L621.0 264.2 L631.2 259.8 L644.7 255.0 L659.5 250.3 L674.2 246.9 L688.9 243.9 L700.7 242.2 L709.5 241.3" stroke="#000" stroke-width="1.05" stroke-dasharray="4.5 3.75" fill="none" stroke-linejoin="round"/>
<path d="M531.4 333.8 L531.0 329.3 L534.4 325.6 L537.4 324.1 L541.8 328.1 L544.8 333.0 L547.8 341.9 L550.0 349.5 L551.5 359.8 L552.5 367.6 L553.7 372.5 L553.9 374.6 L554.3 374.1 L554.0 376.5 L554.4 379.7 L554.8 380.0 L555.3 382.1 L555.6 384.0 L555.9 385.1 L555.9 383.2 L556.1 383.5 L556.3 381.5 L556.6 379.4 L557.2 377.0 L557.3 378.1 L557.9 378.1 L557.5 383.2 L558.1 381.4 L558.8 386.3 L558.6 386.0 L559.1 387.1 L560.0 388.1 L561.1 390.3 L561.4 387.2 L561.7 385.1 L561.5 386.4 L562.0 383.1 L562.3 381.6 L562.5 380.0 L562.7 379.7 L563.3 385.1 L563.8 385.5 L563.6 385.9 L564.0 388.0 L565.6 388.8 L566.0 387.9 L565.8 384.5 L566.2 383.9 L566.8 382.3 L566.4 381.9 L567.0 379.0 L567.3 380.6 L567.6 381.8 L568.1 384.7 L568.6 385.1 L568.8 383.5 L569.3 382.3 L569.7 378.9 L570.5 378.0 L570.9 380.0 L571.1 380.8 L571.8 381.6 L572.5 384.0 L575.2 384.4 L575.7 384.3 L576.3 380.6 L577.2 380.8 L577.8 379.1 L579.0 375.8 L579.5 373.0 L580.4 374.2 L580.8 371.0 L582.7 368.8 L584.2 367.3 L585.6 361.6 L587.1 355.7 L588.6 348.3 L590.1 341.2 L591.6 333.8 L593.5 326.3 L595.3 320.4 L597.3 314.0 L600.8 303.5 L605.0 293.9 L610.4 285.4 L616.7 278.0 L624.2 271.6 L632.8 266.5 L644.7 260.9 L659.5 255.0 L674.2 250.6 L688.9 247.2 L703.6 244.7 L718.4 242.5 L733.1 241.0" stroke="#000" stroke-width="1.05" stroke-dasharray="1.3 3.83" fill="none" stroke-linejoin="round"/>
</g></svg></body></html>
